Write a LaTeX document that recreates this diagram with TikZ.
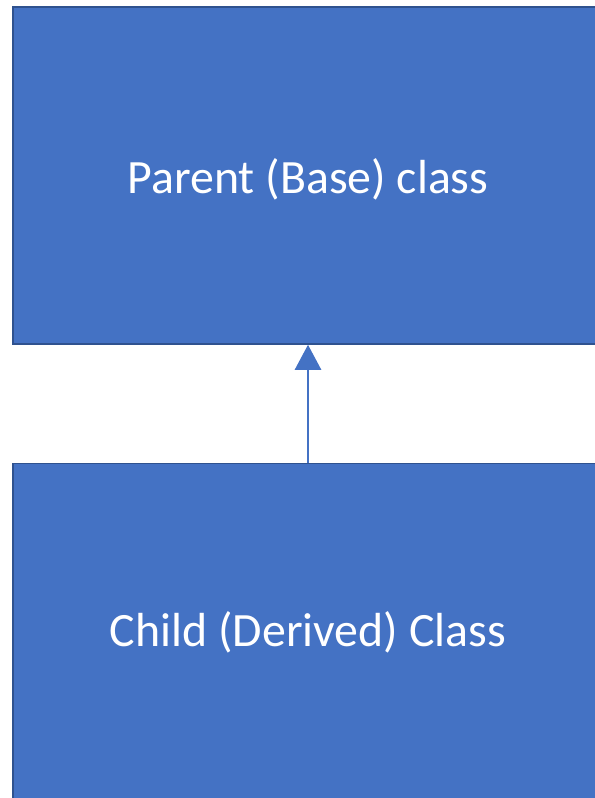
\documentclass[tikz,border=0pt]{standalone}
\usepackage{fontspec}
\setmainfont{Carlito}
\usetikzlibrary{arrows.meta}
\definecolor{officeblue}{HTML}{4472C4}
\definecolor{officeedge}{HTML}{2F528F}
\begin{document}
\begin{tikzpicture}
[x=1bp,y=-1bp,
  classdecorate/.style={shape=rectangle,draw=officeedge,line width=1.5bp,fill=officeblue,
    minimum width=590bp,minimum height=337bp,inner sep=0pt,text=white,text height=35bp,
    font=\fontsize{48}{52}\selectfont},%
  linedecorate/.style={-{Triangle[width=26bp,length=25bp]},line width=2.5bp,draw=officeblue}]
\useasboundingbox (0,0) rectangle (595,798);
%% nodes or classes
\foreach \nodename/\x/\y/\d/\txt in {parent/308/175.5/0/Parent (Base) class, child/308/632/6/Child (Derived) Class} {
  \node (\nodename) at (\x,\y) [classdecorate,text depth=\d bp] {\txt};
}
%% inheritance arrow
\path (child) edge[linedecorate] (parent);
\end{tikzpicture}
\end{document}
